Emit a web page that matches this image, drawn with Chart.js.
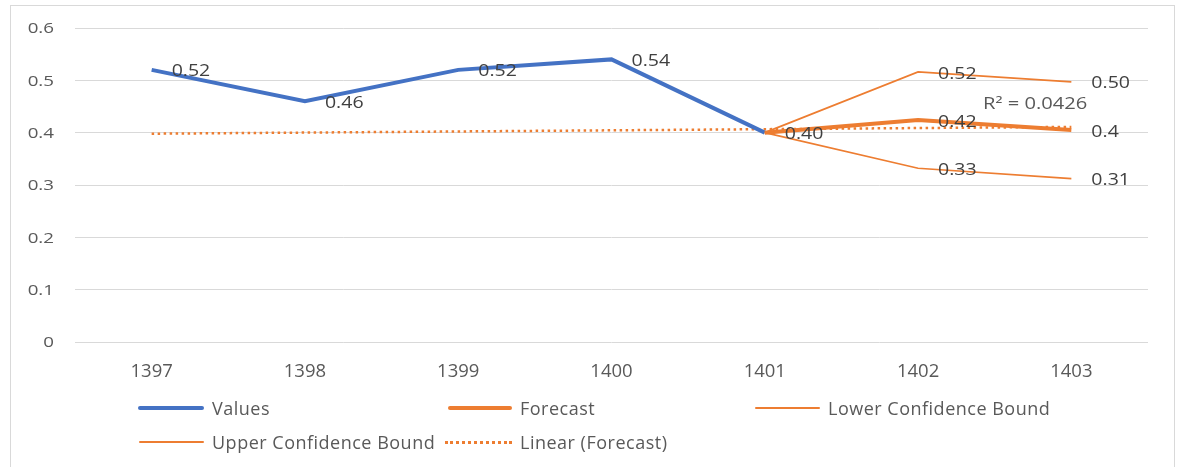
<!DOCTYPE html>
<html lang="en">
  <head>
    <meta charset="UTF-8" />
    <title>Forecast</title>
    <script src="https://cdn.jsdelivr.net/npm/chart.js"></script>
    <style>
      html,
      body {
        margin: 0;
        padding: 0;
        background: #ffffff;
        font-family: "Open Sans", sans-serif;
      }
      .wrap {
        position: relative;
        width: 1181px;
        height: 467px;
        overflow: hidden;
      }
      .frame {
        position: absolute;
        left: 10px;
        top: 5px;
        width: 1163px;
        height: 480px;
        border: 1.5px solid #d9d9d9;
      }
      canvas {
        position: absolute;
        left: 0;
        top: 0;
      }
      .leg {
        position: absolute;
        font-size: 18px;
        letter-spacing: 0.5px;
        color: #595959;
        white-space: nowrap;
        line-height: 22px;
      }
      .leg .ln {
        position: absolute;
        top: 11px;
        height: 0;
      }
    </style>
  </head>
  <body>
    <div class="wrap">
      <div class="frame"></div>
      <canvas id="chart" width="1181" height="467"></canvas>
      <div id="legend"></div>
    </div>

    <script>
      // data
      const years = ["1397", "1398", "1399", "1400", "1401", "1402", "1403"];
      const values = [0.52, 0.46, 0.52, 0.54, 0.4, null, null];
      const forecast = [null, null, null, null, 0.4, 0.424, 0.405];
      const lowerBound = [null, null, null, null, 0.4, 0.332, 0.312];
      const upperBound = [null, null, null, null, 0.4, 0.516, 0.497];
      const trend = [0.398, null, null, null, null, null, 0.411];

      const valueLabels = ["0.52", "0.46", "0.52", "0.54", "0.40", null, null];
      const forecastLabels = [null, null, null, null, null, "0.42", "0.4"];
      const lowerLabels = [null, null, null, null, null, "0.33", "0.31"];
      const upperLabels = [null, null, null, null, null, "0.52", "0.50"];
      const rSquared = "R² = 0.0426";

      const yTicks = [0, 0.1, 0.2, 0.3, 0.4, 0.5, 0.6];

      const BLUE = "#4472c4";
      const ORANGE = "#ed7d31";

      // the source picture is a bit stretched sideways, so is this text
      function wideText(ctx, text, x, y, sx) {
        ctx.save();
        ctx.translate(x, y);
        ctx.scale(sx, 1);
        ctx.fillText(text, 0, 0);
        ctx.restore();
      }

      // y tick labels + data labels, drawn off the chart's own scales
      const labelPlugin = {
        id: "pointLabels",
        afterDatasetsDraw(chart) {
          const ctx = chart.ctx;
          ctx.save();
          ctx.textBaseline = "middle";

          // y axis labels
          const ys = chart.scales.y;
          ctx.font = "15px 'Open Sans'";
          ctx.fillStyle = "#595959";
          ctx.textAlign = "right";
          yTicks.forEach((v) => {
            wideText(ctx, String(v), 54, ys.getPixelForValue(v) + 1, 1.25);
          });

          // point labels to the right of each point
          ctx.font = "16px 'Open Sans'";
          ctx.fillStyle = "#404040";
          ctx.textAlign = "left";
          chart.data.datasets.forEach((ds, i) => {
            if (!ds.pointText) return;
            const meta = chart.getDatasetMeta(i);
            ds.pointText.forEach((t, j) => {
              if (!t) return;
              const pt = meta.data[j];
              wideText(ctx, t, pt.x + 20, pt.y + 2, 1.22);
            });
          });

          // R² of the linear trend
          const last = chart.getDatasetMeta(4).data[6];
          ctx.font = "15.5px 'Open Sans'";
          ctx.fillStyle = "#595959";
          ctx.textAlign = "right";
          wideText(ctx, rSquared, last.x + 16, last.y - 22, 1.3);
          ctx.restore();
        },
      };

      new Chart(document.getElementById("chart"), {
        type: "line",
        data: {
          labels: years,
          datasets: [
            {
              label: "Values",
              data: values,
              borderColor: BLUE,
              borderWidth: 4,
              pointRadius: 0,
              pointText: valueLabels,
              order: 5,
            },
            {
              label: "Forecast",
              data: forecast,
              borderColor: ORANGE,
              borderWidth: 4,
              pointRadius: 0,
              pointText: forecastLabels,
              order: 4,
            },
            {
              label: "Lower Confidence Bound",
              data: lowerBound,
              borderColor: ORANGE,
              borderWidth: 1.75,
              pointRadius: 0,
              pointText: lowerLabels,
              order: 3,
            },
            {
              label: "Upper Confidence Bound",
              data: upperBound,
              borderColor: ORANGE,
              borderWidth: 1.75,
              pointRadius: 0,
              pointText: upperLabels,
              order: 2,
            },
            {
              label: "Linear (Forecast)",
              data: trend,
              borderColor: ORANGE,
              borderWidth: 2.5,
              borderDash: [2.5, 3.5],
              pointRadius: 0,
              spanGaps: true,
              order: 6,
            },
          ],
        },
        options: {
          responsive: false,
          animation: false,
          layout: { padding: { top: 28, right: 33, bottom: 85, left: 0 } },
          plugins: {
            legend: { display: false },
            tooltip: { enabled: false },
          },
          scales: {
            x: {
              offset: true,
              grid: { display: false },
              border: { display: false },
              ticks: {
                color: "#595959",
                font: { family: "Open Sans", size: 18.5 },
                padding: 11,
              },
              afterFit(s) {
                s.height = 40;
              },
            },
            y: {
              min: 0,
              max: 0.6,
              afterBuildTicks(s) {
                s.ticks = yTicks.map((v) => ({ value: v }));
              },
              grid: { color: "#d9d9d9", lineWidth: 1, drawTicks: false },
              border: { display: false },
              ticks: { display: false },
              afterFit(s) {
                s.width = 75;
              },
            },
          },
        },
        plugins: [labelPlugin],
      });

      // legend laid out in Excel's grid
      const legendItems = [
        { text: "Values", x: 138, tx: 212, y: 397, color: BLUE, w: 4, style: "solid" },
        { text: "Forecast", x: 448, tx: 520, y: 397, color: ORANGE, w: 4, style: "solid" },
        { text: "Lower Confidence Bound", x: 755, tx: 828, y: 397, color: ORANGE, w: 2, style: "solid" },
        { text: "Upper Confidence Bound", x: 139, tx: 212, y: 431, color: ORANGE, w: 2, style: "solid" },
        { text: "Linear (Forecast)", x: 445, tx: 520, y: 431, color: ORANGE, w: 3, style: "dotted" },
      ];
      const legend = document.getElementById("legend");
      legendItems.forEach((it) => {
        const ln = document.createElement("div");
        ln.className = "leg";
        ln.style.left = it.x + "px";
        ln.style.top = it.y + "px";
        const bar = document.createElement("span");
        bar.className = "ln";
        bar.style.width = it.tx - it.x - 8 + "px";
        bar.style.borderTop = it.w + "px " + it.style + " " + it.color;
        bar.style.marginTop = -it.w / 2 + "px";
        if (it.style === "solid") bar.style.borderRadius = "2px";
        ln.appendChild(bar);
        legend.appendChild(ln);

        const d = document.createElement("div");
        d.className = "leg";
        d.style.left = it.tx + "px";
        d.style.top = it.y + "px";
        d.textContent = it.text;
        legend.appendChild(d);
      });
    </script>
  </body>
</html>
